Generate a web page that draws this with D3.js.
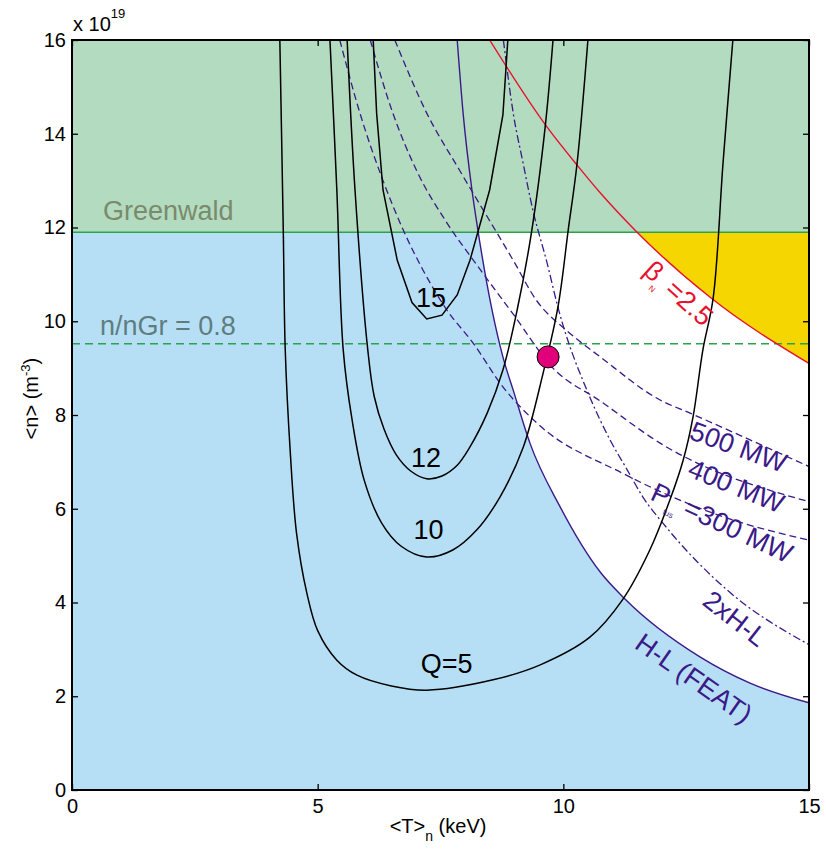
<!DOCTYPE html>
<html>
<head>
<meta charset="utf-8">
<script src="https://cdn.jsdelivr.net/npm/d3@7"></script>
<style>
body { margin: 0; background: #fff; }
text { font-family: "Liberation Sans", Arial, sans-serif; }
</style>
</head>
<body>
<script>
// fusion gain contours, [T keV, n 1e19 m^-3]
var q5 = [[4.23,16],[4.3,11.95],[4.34,9.39],[4.44,7.25],[4.57,5.48],[4.78,4.2],[5.0,3.4],[5.39,2.77],[5.8,2.45],[6.5,2.22],[7.22,2.13],[8.57,2.35],[9.53,2.67],[10.54,3.26],[11.2,4.05],[11.76,5.12],[12.17,6.19],[12.44,7.04],[12.64,7.96],[12.84,9.39],[13.05,10.5],[13.25,13.37],[13.45,16]]
var q10 = [[5.25,16],[5.39,12.8],[5.52,9.39],[5.7,7.9],[5.95,6.6],[6.3,5.7],[6.7,5.2],[7.22,4.97],[7.75,5.12],[8.24,5.55],[8.71,6.25],[9.18,7.3],[9.59,8.9],[9.89,10.3],[10.1,11.95],[10.28,13.37],[10.5,16]]
var q12 = [[5.6,16],[5.76,12.8],[6.02,9.39],[6.15,8.4],[6.35,7.7],[6.6,7.15],[6.9,6.8],[7.22,6.64],[7.53,6.7],[7.84,6.93],[8.1,7.32],[8.45,8.04],[8.77,8.96],[9.06,10.24],[9.36,11.95],[9.63,14.14],[9.79,16]]
var q15 = [[6.13,16],[6.2,14.44],[6.33,12.8],[6.62,11.3],[6.92,10.4],[7.22,10.05],[7.53,10.13],[7.84,10.56],[8.1,11.3],[8.5,12.8],[8.77,14.4],[8.87,16]]

// confinement / power / beta limits
var hl = [[7.84,16],[7.96,14.44],[8.14,12.8],[8.26,11.95],[8.77,9.24],[8.98,8.53],[9.32,7.4],[9.93,6.05],[10.75,4.65],[11.26,4.07],[12.78,2.84],[13.8,2.28],[15,1.86]]
var hl2 = [[8.78,16],[8.98,14.44],[9.18,13.38],[9.38,12.37],[9.67,11.24],[9.89,10.3],[10.54,8.38],[10.95,7.47],[11.3,6.83],[11.62,6.25],[12.1,5.6],[13.33,4.27],[15,3.1]]
var p300 = [[5.45,16],[5.86,14.44],[6.33,13.0],[6.74,11.95],[7.14,11.1],[7.63,10.24],[8.16,9.54],[8.77,8.6],[9.46,7.83],[11.2,6.76],[13.25,5.83],[15,5.33]]
var p400 = [[6.07,16],[6.53,14.44],[7.02,13.2],[7.63,12.1],[8.24,11.2],[8.98,10.15],[9.79,9.0],[10.75,8.3],[11.97,7.4],[15,6.15]]
var p500 = [[6.57,16],[7.22,14.44],[7.9,13.2],[8.98,11.3],[9.45,10.45],[10.07,9.8],[10.75,9.24],[11.97,8.32],[12.58,8.04],[15,6.9]]
var beta = [[8.5,16],[9.67,14.14],[10.28,13.33],[10.75,12.74],[11.5,11.9],[13.0,10.5],[15,9.1]]

var nGreenwald = 11.9
var nGrFrac = 0.8
var operatingPoint = [9.69, 9.24]

var xTicks = [0, 5, 10, 15]
var yTicks = [0, 2, 4, 6, 8, 10, 12, 14, 16]

var W = 826, H = 850
var margin = {top: 40, right: 17, bottom: 60, left: 72}
var pw = W - margin.left - margin.right
var ph = H - margin.top - margin.bottom

var purple = '#3b1a88'

var svg = d3.select('body').append('svg').attr('width', W).attr('height', H)
var defs = svg.append('defs')
defs.append('clipPath').attr('id', 'plotclip').append('rect')
	.attr('x', 0).attr('y', 0).attr('width', pw).attr('height', ph)

var g = svg.append('g').attr('transform', `translate(${margin.left},${margin.top})`)

var x = d3.scaleLinear().domain([0, 15]).range([0, pw])
var y = d3.scaleLinear().domain([0, 16]).range([ph, 0])

defs.append('clipPath').attr('id', 'belowgw').append('rect')
	.attr('x', 0).attr('y', y(nGreenwald)).attr('width', pw).attr('height', ph - y(nGreenwald))

var plot = g.append('g').attr('clip-path', 'url(#plotclip)')

// blue: below H-L curve
var blueArea = d3.area().x(d => x(d[0])).y0(y(0)).y1(d => y(d[1])).curve(d3.curveMonotoneX)
plot.append('path').datum([[0, hl[0][1]]].concat(hl))
	.attr('d', blueArea).attr('fill', '#b6dff5')

// green: above Greenwald
plot.append('rect').attr('x', x(0)).attr('y', y(16))
	.attr('width', x(15) - x(0)).attr('height', y(nGreenwald) - y(16))
	.attr('fill', '#b3dbbf')

// yellow: between beta limit and Greenwald
var yellowArea = d3.area().x(d => x(d[0])).y0(d => y(d[1])).y1(y(nGreenwald)).curve(d3.curveMonotoneX)
plot.append('g').attr('clip-path', 'url(#belowgw)')
	.append('path').datum(beta).attr('d', yellowArea).attr('fill', '#f5d600')

// Greenwald lines
plot.append('line').attr('x1', x(0)).attr('x2', x(15))
	.attr('y1', y(nGreenwald)).attr('y2', y(nGreenwald))
	.attr('stroke', '#2ba24c').attr('stroke-width', 1.6)
plot.append('line').attr('x1', x(0)).attr('x2', x(15))
	.attr('y1', y(nGreenwald * nGrFrac)).attr('y2', y(nGreenwald * nGrFrac))
	.attr('stroke', '#2ba24c').attr('stroke-width', 1.4).attr('stroke-dasharray', '8,5')

var monoLine = d3.line().x(d => x(d[0])).y(d => y(d[1])).curve(d3.curveMonotoneX)
var smoothLine = d3.line().x(d => x(d[0])).y(d => y(d[1])).curve(d3.curveCatmullRom.alpha(0.5))
var straightLine = d3.line().x(d => x(d[0])).y(d => y(d[1]))

// power lines
;[p300, p400, p500].forEach(function(p) {
	plot.append('path').datum(p).attr('d', monoLine)
		.attr('fill', 'none').attr('stroke', purple).attr('stroke-width', 1.3)
		.attr('stroke-dasharray', '7,4')
})
plot.append('path').datum(hl2).attr('d', monoLine)
	.attr('fill', 'none').attr('stroke', purple).attr('stroke-width', 1.3)
	.attr('stroke-dasharray', '8,3,2,3')
plot.append('path').datum(hl).attr('d', monoLine)
	.attr('fill', 'none').attr('stroke', purple).attr('stroke-width', 1.4)
plot.append('path').datum(beta).attr('d', monoLine)
	.attr('fill', 'none').attr('stroke', '#e8112d').attr('stroke-width', 1.4)

// Q contours
;[q5, q10, q12].forEach(function(q) {
	plot.append('path').datum(q).attr('d', smoothLine)
		.attr('fill', 'none').attr('stroke', '#000').attr('stroke-width', 1.5)
})
plot.append('path').datum(q15).attr('d', straightLine)
	.attr('fill', 'none').attr('stroke', '#000').attr('stroke-width', 1.5)

// operating point
plot.append('circle').attr('cx', x(operatingPoint[0])).attr('cy', y(operatingPoint[1]))
	.attr('r', 11).attr('fill', '#e2007a').attr('stroke', '#000').attr('stroke-width', 1)

// labels
var lab = g.append('g').attr('font-size', 27)
lab.append('text').attr('x', x(0.63)).attr('y', y(12.15)).attr('fill', '#7a8a6c').text('Greenwald')
lab.append('text').attr('x', x(0.57)).attr('y', y(9.7)).attr('fill', '#5f7d7f').text('n/nGr = 0.8')
lab.append('text').attr('x', x(7.0)).attr('y', y(10.3)).text('15')
lab.append('text').attr('x', x(6.9)).attr('y', y(6.9)).text('12')
lab.append('text').attr('x', x(6.95)).attr('y', y(5.35)).text('10')
lab.append('text').attr('x', x(7.1)).attr('y', y(2.5)).text('Q=5')

function rotLabel(T, n, ang, color) {
	return lab.append('text').attr('text-anchor', 'middle')
		.attr('transform', `translate(${x(T)},${y(n)}) rotate(${ang})`)
		.attr('fill', color)
}
var tb = rotLabel(12.22, 10.45, 42, '#e8112d')
tb.append('tspan').text('β')
tb.append('tspan').attr('font-size', 8).attr('dy', 8).text('N')
tb.append('tspan').attr('dy', -8).text(' =2.5')

rotLabel(13.5, 7.13, 20, purple).text('500 MW')
rotLabel(13.45, 6.3, 22, purple).text('400 MW')
var tp = rotLabel(13.15, 5.52, 25, purple)
tp.append('tspan').text('P')
tp.append('tspan').attr('font-size', 8).attr('dy', 8).text('fus')
tp.append('tspan').attr('dy', -8).text(' =300 MW')
rotLabel(13.38, 3.5, 38, purple).text('2xH-L')
rotLabel(12.55, 2.22, 35, purple).text('H-L (FEAT)')

// axes, ticks inside on all sides
var ax = g.append('g')
ax.append('g').attr('transform', `translate(0,${ph})`)
	.call(d3.axisBottom(x).tickValues(xTicks).tickSize(-6).tickPadding(9))
ax.append('g')
	.call(d3.axisLeft(y).tickValues(yTicks).tickSize(-6).tickPadding(6))
ax.append('g')
	.call(d3.axisTop(x).tickValues(xTicks).tickSize(-6).tickFormat(''))
ax.append('g').attr('transform', `translate(${pw},0)`)
	.call(d3.axisRight(y).tickValues(yTicks).tickSize(-6).tickFormat(''))
ax.selectAll('.domain').remove()
ax.selectAll('.tick line').attr('stroke', '#000').attr('stroke-width', 1.3)
ax.selectAll('.tick text').attr('fill', '#000').attr('font-size', 20)
	.attr('font-family', '"Liberation Sans", Arial, sans-serif')

g.append('rect').attr('x', 0).attr('y', 0).attr('width', pw).attr('height', ph)
	.attr('fill', 'none').attr('stroke', '#000').attr('stroke-width', 2)

// axis titles
var xt = svg.append('text').attr('x', margin.left + x(7.45)).attr('y', 833)
	.attr('text-anchor', 'middle').attr('font-size', 20)
xt.append('tspan').text('<T>')
xt.append('tspan').attr('font-size', 14).attr('dy', 8).text('n')
xt.append('tspan').attr('dy', -8).text(' (keV)')

var yt = svg.append('text').attr('transform', `translate(38,${margin.top + y(8.35)}) rotate(-90)`)
	.attr('text-anchor', 'middle').attr('font-size', 20)
yt.append('tspan').text('<n> (m')
yt.append('tspan').attr('font-size', 13).attr('dy', -8).text('-3')
yt.append('tspan').attr('dy', 8).text(')')

var ex = svg.append('text').attr('x', margin.left + 1).attr('y', 31).attr('font-size', 20)
ex.append('tspan').text('x 10')
ex.append('tspan').attr('font-size', 13).attr('dy', -13).text('19')
</script>
</body>
</html>
